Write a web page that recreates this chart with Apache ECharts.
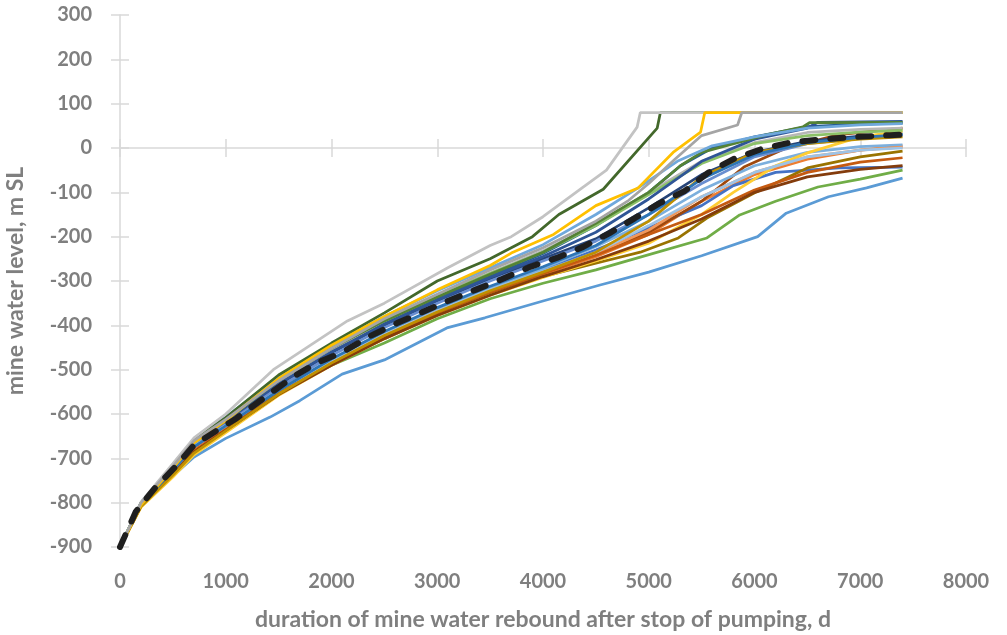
<!DOCTYPE html>
<html>
<head>
<meta charset="utf-8">
<title>mine water rebound</title>
<script src="https://cdn.jsdelivr.net/npm/echarts@6.0.0/dist/echarts.min.js"></script>
<style>
  html, body { margin: 0; padding: 0; background: #fff; }
  #chart { width: 1007px; height: 635px; }
</style>
</head>
<body>
<div id="chart"></div>
<script>
// axis ticks
const xTicks = [0, 1000, 2000, 3000, 4000, 5000, 6000, 7000, 8000];
const yTicks = [-900, -800, -700, -600, -500, -400, -300, -200, -100, 0, 100, 200, 300];

// single model runs: [days, level m SL]
const run01 = [[0,-900],[200,-805],[500,-740],[700,-697],[1000,-655],[1420,-607],[1700,-570],[2100,-510],[2500,-478],[3100,-405],[3450,-383],[4000,-345],[4540,-309],[5000,-280],[5500,-243],[6030,-200],[6300,-147],[6700,-110],[7060,-90],[7400,-68]];
const run02 = [[0,-900],[200,-805],[500,-730],[700,-680],[1000,-630],[1500,-550],[2000,-480],[2500,-420],[3000,-370],[3500,-325],[4000,-285],[4500,-245],[5000,-195],[5500,-120],[6000,-60],[6500,-25],[7000,-5],[7400,5]];
const run03 = [[0,-900],[200,-800],[500,-718],[700,-660],[1000,-612],[1500,-525],[2000,-452],[2500,-385],[3000,-330],[3500,-275],[4000,-225],[4500,-165],[4800,-120],[5000,-80],[5250,-25],[5500,28],[5840,52],[5880,80],[7400,80]];
const run04 = [[0,-900],[200,-805],[500,-722],[700,-665],[1000,-615],[1500,-520],[2000,-445],[2500,-380],[3000,-320],[3500,-265],[3700,-237],[4100,-195],[4500,-130],[4900,-90],[5230,-10],[5490,36],[5530,80],[7400,80]];
const run05 = [[0,-900],[200,-805],[500,-728],[700,-675],[1000,-628],[1500,-548],[2000,-478],[2500,-418],[3000,-365],[3500,-318],[4000,-275],[4500,-230],[5000,-180],[5500,-130],[5800,-85],[6200,-55],[6800,-45],[7400,-43]];
const run06 = [[0,-900],[200,-805],[500,-735],[700,-690],[1000,-640],[1500,-550],[2000,-490],[2500,-440],[3000,-385],[3500,-340],[4000,-305],[4500,-275],[4920,-246],[5550,-203],[5860,-151],[6200,-120],[6600,-88],[7000,-70],[7400,-50]];
const run07 = [[0,-900],[200,-800],[500,-720],[700,-663],[1000,-615],[1500,-530],[2000,-458],[2500,-395],[3000,-340],[3500,-290],[4000,-238],[4500,-175],[5000,-100],[5300,-40],[5600,0],[6000,25],[6500,48],[7000,54],[7400,56]];
const run08 = [[0,-900],[200,-805],[500,-732],[700,-680],[1000,-632],[1500,-552],[2000,-485],[2500,-425],[3000,-372],[3500,-325],[4000,-282],[4500,-240],[5000,-190],[5500,-120],[5900,-43],[6300,0],[6800,30],[7400,45]];
const run09 = [[0,-900],[200,-798],[500,-712],[700,-654],[1000,-600],[1450,-500],[2150,-390],[2500,-350],[3100,-270],[3500,-220],[3700,-200],[4000,-155],[4370,-90],[4600,-50],[4890,47],[4920,80],[7400,80]];
const run10 = [[0,-900],[200,-808],[500,-740],[700,-684],[1000,-635],[1500,-540],[2000,-485],[2500,-430],[3000,-375],[3500,-330],[4000,-290],[4500,-260],[4920,-235],[5280,-203],[5550,-158],[6020,-99],[6500,-45],[7000,-20],[7400,-7]];
const run11 = [[0,-900],[200,-802],[500,-722],[700,-666],[1000,-618],[1500,-535],[2000,-462],[2500,-400],[3000,-345],[3500,-295],[4000,-250],[4500,-205],[5000,-135],[5500,-60],[6000,-10],[6500,15],[7000,27],[7400,32]];
const run12 = [[0,-900],[200,-800],[500,-716],[700,-658],[1000,-608],[1500,-512],[2000,-440],[2500,-372],[3000,-300],[3500,-250],[3700,-225],[3900,-200],[4150,-150],[4570,-93],[5080,45],[5110,80],[7400,80]];
const run13 = [[0,-900],[200,-800],[500,-725],[700,-672],[1000,-625],[1500,-545],[2000,-478],[2500,-415],[3000,-362],[3500,-315],[4000,-272],[4500,-222],[5000,-165],[5500,-95],[6000,-40],[6500,-10],[7000,3],[7400,7]];
const run14 = [[0,-900],[200,-808],[500,-735],[700,-682],[1000,-632],[1500,-548],[2000,-480],[2500,-420],[3000,-368],[3500,-322],[4000,-280],[4500,-238],[5000,-185],[5500,-110],[6000,-55],[6500,-20],[7000,-5],[7400,2]];
const run15 = [[0,-900],[200,-800],[500,-718],[700,-662],[1000,-612],[1500,-528],[2000,-455],[2500,-390],[3000,-335],[3500,-282],[4000,-232],[4500,-172],[5000,-100],[5500,-30],[6000,12],[6500,35],[7000,42],[7400,45]];
const run16 = [[0,-900],[200,-810],[500,-742],[700,-692],[1000,-642],[1500,-558],[2000,-490],[2500,-430],[3000,-378],[3500,-332],[4000,-292],[4500,-255],[5000,-215],[5500,-150],[5800,-100],[6200,-40],[6500,-11],[7000,25],[7400,38]];
const run17 = [[0,-900],[200,-803],[500,-724],[700,-668],[1000,-620],[1500,-540],[2000,-468],[2500,-405],[3000,-350],[3500,-300],[4000,-255],[4500,-210],[5000,-150],[5500,-80],[6000,-20],[6500,10],[7000,22],[7400,28]];
const run18 = [[0,-900],[200,-800],[500,-716],[700,-660],[1000,-612],[1500,-522],[2000,-450],[2500,-388],[3000,-333],[3500,-283],[4000,-235],[4500,-175],[5000,-105],[5500,-35],[6000,10],[6500,28],[7000,36],[7400,40]];
const run19 = [[0,-900],[200,-801],[500,-720],[700,-664],[1000,-616],[1500,-532],[2000,-460],[2500,-398],[3000,-343],[3500,-292],[4000,-245],[4500,-190],[5000,-115],[5500,-30],[6000,20],[6500,45],[6600,58],[7400,60]];
const run20 = [[0,-900],[200,-806],[500,-733],[700,-683],[1000,-635],[1500,-552],[2000,-485],[2500,-425],[3000,-372],[3500,-325],[4000,-283],[4500,-242],[5000,-195],[5500,-150],[6000,-95],[6500,-55],[7000,-32],[7400,-22]];
const run21 = [[0,-900],[200,-806],[500,-736],[700,-686],[1000,-637],[1500,-556],[2000,-490],[2500,-430],[3000,-378],[3500,-332],[4000,-290],[4500,-252],[5000,-210],[5500,-160],[6000,-100],[6500,-65],[7000,-48],[7400,-40]];
const run22 = [[0,-900],[200,-800],[500,-718],[700,-662],[1000,-614],[1500,-524],[2000,-452],[2500,-390],[3000,-336],[3500,-285],[4000,-235],[4500,-170],[5000,-100],[5300,-40],[5500,-10],[6100,29],[6460,48],[6520,57],[7400,58]];
const run23 = [[0,-900],[200,-803],[500,-726],[700,-673],[1000,-626],[1500,-546],[2000,-480],[2500,-420],[3000,-368],[3500,-320],[4000,-278],[4500,-235],[5000,-175],[5500,-110],[6000,-55],[6500,-20],[7000,-5],[7400,0]];
const run24 = [[0,-900],[200,-808],[500,-738],[700,-688],[1000,-638],[1500,-555],[2000,-485],[2500,-423],[3000,-370],[3500,-322],[4000,-280],[4500,-235],[5000,-165],[5500,-65],[6000,-10],[6500,10],[7000,20],[7400,25]];
const run25 = [[0,-900],[200,-800],[500,-714],[700,-656],[1000,-607],[1500,-515],[2000,-445],[2500,-380],[3000,-322],[3500,-270],[4000,-218],[4500,-150],[4900,-90],[5270,-30],[5600,5],[6000,25],[6500,45],[7000,52],[7400,55]];
const run26 = [[0,-900],[200,-804],[500,-727],[700,-674],[1000,-627],[1500,-547],[2000,-476],[2500,-414],[3000,-360],[3500,-312],[4000,-268],[4500,-220],[5000,-150],[5500,-70],[6000,-15],[6500,12],[7000,24],[7400,30]];

// mean of all runs (dashed)
const meanRun = [[0,-900],[150,-820],[330,-767],[520,-720],[700,-670],[930,-635],[1100,-610],[1400,-557],[1640,-516],[1860,-485],[2110,-460],[2350,-426],[2620,-395],[2860,-370],[3100,-345],[3360,-320],[3610,-296],[3880,-268],[4130,-248],[4380,-223],[4630,-192],[4870,-158],[5100,-125],[5340,-97],[5560,-56],[5800,-25],[6070,-2],[6350,13],[6650,20],[6970,25],[7280,29],[7400,30]];

// draw order: the runs that reach the +80 overflow level go last, in the order they reach it
const runs = [run01, run02, run05, run06, run07, run08, run10, run11, run13, run14, run15, run16, run17,
  run18, run19, run20, run21, run22, run23, run24, run25, run26, run12, run09, run04, run03];

// excel-like palette, same order as runs
const runColors = ['#5B9BD5', '#ED7D31', '#4472C4', '#70AD47', '#255E91', '#9E480E', '#997300', '#264478',
  '#7CAFDD', '#F1975A', '#B7B7B7', '#FFCD33', '#698ED0', '#8CC168', '#2F5597', '#C55A11', '#843C0C',
  '#548235', '#9DC3E6', '#BF9000', '#6FA8DC', '#2E75B6', '#43682B', '#C3C3C3', '#FFC000', '#A5A5A5'];

const chart = echarts.init(document.getElementById('chart'), null, { renderer: 'canvas' });

const grey = '#7F7F7F';
const axisGrey = '#D9D9D9';

const series = runs.map((r, i) => ({
  name: 'run ' + (i + 1),
  type: 'line',
  data: r,
  symbol: 'none',
  lineStyle: { color: runColors[i], width: 2.75 },
  emphasis: { disabled: true },
  z: 2
}));

series.push({
  name: 'mean',
  type: 'line',
  data: meanRun,
  symbol: 'none',
  lineStyle: { color: '#1F1F1F', width: 6, type: [13, 15], cap: 'round' },
  emphasis: { disabled: true },
  z: 3
});

const plain = (v) => String(v); // no thousands separator

const option = {
  animation: false,
  grid: { left: 120, right: 41, top: 15, bottom: 88, containLabel: false, outerBoundsMode: 'none' },
  xAxis: [{
    type: 'value',
    min: xTicks[0],
    max: xTicks[xTicks.length - 1],
    interval: 1000,
    name: 'duration of mine water rebound after stop of pumping, d',
    nameLocation: 'middle',
    nameGap: 61,
    nameTextStyle: { color: grey, fontSize: 23, fontWeight: 'bold', fontFamily: 'Lato' },
    axisLine: { show: true, lineStyle: { color: axisGrey, width: 1.5 } },
    axisTick: { show: true, length: 9, lineStyle: { color: axisGrey, width: 1.5 } },
    axisLabel: { color: grey, fontSize: 20, fontWeight: 'bold', fontFamily: 'Lato', margin: 25, formatter: plain },
    splitLine: { show: false }
  }, {
    // second copy only for the inward half of the cross ticks
    type: 'value',
    position: 'bottom',
    min: xTicks[0],
    max: xTicks[xTicks.length - 1],
    interval: 1000,
    axisLine: { show: false },
    axisTick: { show: true, inside: true, length: 9, lineStyle: { color: axisGrey, width: 1.5 } },
    axisLabel: { show: false },
    splitLine: { show: false }
  }],
  yAxis: [{
    type: 'value',
    min: yTicks[0],
    max: yTicks[yTicks.length - 1],
    interval: 100,
    name: 'mine water level, m SL',
    nameLocation: 'middle',
    nameGap: 93,
    nameTextStyle: { color: grey, fontSize: 23, fontWeight: 'bold', fontFamily: 'Lato' },
    axisLine: { show: true, lineStyle: { color: axisGrey, width: 1.5 } },
    axisTick: { show: true, length: 9, lineStyle: { color: axisGrey, width: 1.5 } },
    axisLabel: { color: grey, fontSize: 20, fontWeight: 'bold', fontFamily: 'Lato', margin: 28, formatter: plain },
    splitLine: { show: false }
  }, {
    type: 'value',
    position: 'left',
    min: yTicks[0],
    max: yTicks[yTicks.length - 1],
    interval: 100,
    axisLine: { show: false },
    axisTick: { show: true, inside: true, length: 9, lineStyle: { color: axisGrey, width: 1.5 } },
    axisLabel: { show: false },
    splitLine: { show: false }
  }],
  series: series
};

chart.setOption(option);
</script>
</body>
</html>
